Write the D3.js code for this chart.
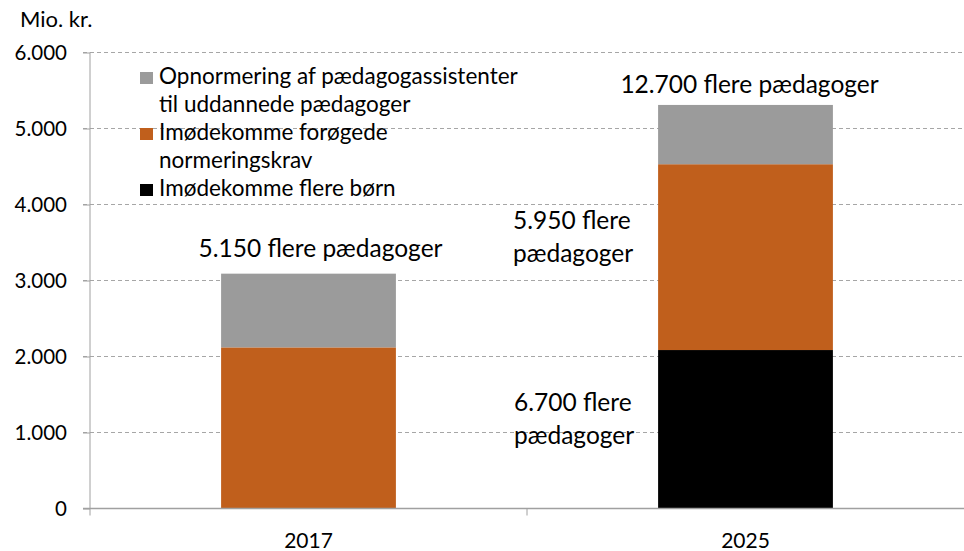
<!DOCTYPE html>
<html>
<head>
<meta charset="utf-8">
<script src="https://cdn.jsdelivr.net/npm/d3@7"></script>
<style>
  body { margin: 0; background: #fff; }
  svg text { font-family: Lato, "Open Sans", sans-serif; fill: #000; }
</style>
</head>
<body>
<div id="chart"></div>
<script>
// chart data
var years = ["2017", "2025"];
var seriesNames = ["Imødekomme flere børn", "Imødekomme forøgede normeringskrav", "Opnormering af pædagogassistenter til uddannede pædagoger"];
var flereBoern = [0, 2085];
var normeringskrav = [2120, 2445];
var opnormering = [970, 780];
var yTicks = [0, 1000, 2000, 3000, 4000, 5000, 6000];
var colours = ["#000000", "#C05F1C", "#9B9B9B"];

var width = 964, height = 551;
var margin = {left: 90, right: 0, top: 52.5, bottom: 42.5};

var svg = d3.select("#chart")
    .append("svg")
    .attr("width", width)
    .attr("height", height);

var x = d3.scaleBand()
    .domain(years)
    .range([margin.left, width - margin.right])
    .paddingInner(0.6)
    .paddingOuter(0.3);

var y = d3.scaleLinear()
    .domain([0, 6000])
    .range([height - margin.bottom, margin.top]);

var fmt = function(d){
    return d3.format(",")(d).replace(/,/g, ".");
};

//gridlines
svg.append("g")
    .selectAll("line")
    .data(yTicks.slice(1))
    .enter()
    .append("line")
    .attr("x1", margin.left - 7)
    .attr("x2", width)
    .attr("y1", function(d){ return y(d); })
    .attr("y2", function(d){ return y(d); })
    .attr("stroke", "#a6a6a6")
    .attr("stroke-width", 1)
    .attr("stroke-dasharray", "4,3");

//stacked bars
var rows = years.map(function(yr, i){
    return {year: yr, a: flereBoern[i], b: normeringskrav[i], c: opnormering[i]};
});
var stack = d3.stack().keys(["a", "b", "c"]);
var layers = stack(rows);

svg.append("g")
    .selectAll("g")
    .data(layers)
    .enter()
    .append("g")
    .attr("fill", function(d, i){ return colours[i]; })
    .selectAll("rect")
    .data(function(d){ return d; })
    .enter()
    .append("rect")
    .attr("x", function(d){ return x(d.data.year); })
    .attr("width", x.bandwidth())
    .attr("y", function(d){ return y(d[1]); })
    .attr("height", function(d){ return y(d[0]) - y(d[1]); });

//y axis
var yAxis = svg.append("g")
    .attr("transform", "translate(" + margin.left + ",0)")
    .call(d3.axisLeft(y).tickValues(yTicks).tickFormat(fmt).tickSize(7).tickPadding(16));
yAxis.select(".domain").attr("stroke", "#a0a0a0").attr("d", "M0," + y(6000) + "V" + y(0));
yAxis.selectAll(".tick line").attr("stroke", "#a0a0a0");
yAxis.selectAll(".tick text").attr("font-size", 20.5).attr("font-family", "Lato");

//x axis
var xAxis = svg.append("g")
    .attr("transform", "translate(0," + y(0) + ")");
xAxis.append("line")
    .attr("x1", margin.left - 7)
    .attr("x2", width)
    .attr("stroke", "#a0a0a0")
    .attr("stroke-width", 1.5);
var edges = [margin.left, margin.left + (width - margin.left) / 2];
xAxis.selectAll("line.tk")
    .data(edges)
    .enter()
    .append("line")
    .attr("class", "tk")
    .attr("x1", function(d){ return d; })
    .attr("x2", function(d){ return d; })
    .attr("y1", 0)
    .attr("y2", 7)
    .attr("stroke", "#a0a0a0");
xAxis.selectAll("text")
    .data(years)
    .enter()
    .append("text")
    .attr("x", function(d){ return x(d) + x.bandwidth() / 2; })
    .attr("y", 39)
    .attr("text-anchor", "middle")
    .attr("font-size", 21)
    .text(function(d){ return d; });

svg.append("text")
    .attr("x", 20)
    .attr("y", 27)
    .attr("font-size", 22)
    .text("Mio. kr.");

//legend
var legendItems = [
    {colour: colours[2], lines: ["Opnormering af pædagogassistenter", "til uddannede pædagoger"], y: 84},
    {colour: colours[1], lines: ["Imødekomme forøgede", "normeringskrav"], y: 140},
    {colour: colours[0], lines: ["Imødekomme flere børn"], y: 196}
];
var legend = svg.append("g");
legendItems.forEach(function(item){
    legend.append("rect")
        .attr("x", 140)
        .attr("y", item.y - 12)
        .attr("width", 13)
        .attr("height", 12)
        .attr("fill", item.colour);
    item.lines.forEach(function(l, j){
        legend.append("text")
            .attr("x", 159)
            .attr("y", item.y + j * 28)
            .attr("font-size", 22.5)
            .text(l);
    });
});

//annotations
var notes = [
    {lines: ["5.150 flere pædagoger"], x: x("2017") + x.bandwidth() / 2 + 12, y: 257, anchor: "middle"},
    {lines: ["12.700 flere pædagoger"], x: x("2025") + x.bandwidth() / 2 + 4, y: 93, anchor: "middle"},
    {lines: ["5.950 flere", "pædagoger"], x: 513, y: 229, anchor: "start"},
    {lines: ["6.700 flere", "pædagoger"], x: 514, y: 411, anchor: "start"}
];
notes.forEach(function(n){
    n.lines.forEach(function(l, j){
        svg.append("text")
            .attr("x", n.x)
            .attr("y", n.y + j * 33)
            .attr("text-anchor", n.anchor)
            .attr("font-size", 24.5)
            .text(l);
    });
});
</script>
</body>
</html>
